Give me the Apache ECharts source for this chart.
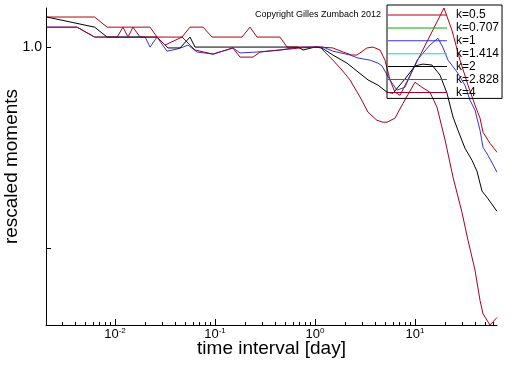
<!DOCTYPE html>
<html><head><meta charset="utf-8">
<script src="https://cdn.jsdelivr.net/npm/echarts@6/dist/echarts.min.js"></script>
<style>html,body{margin:0;padding:0;background:#fff}#c{width:512px;height:366px}</style>
</head><body><div id="c"></div>
<script>
// ---- data (time interval in days, rescaled moment) ----
const seriesNames = ['k=0.5','k=0.707','k=1','k=1.414','k=2','k=2.828','k=4'];
const seriesColors = ['#b40010','#00b000','#3535d5','#00dcdc','#000000','#e000e0','#a00028'];

const k05X = [0.00208,0.00625,0.00833,0.0224,0.0263,0.0468,0.0562,0.0759,0.0933,0.186,0.224,0.263,0.447,0.525,1.0,1.12,1.51,1.91,2.34,2.63,3.31,3.80,4.47,5.01,5.62,6.31,7.08,19.5,23.4,28.2,33.9,39.8,44.7,47.9,56.2,66.1];
const k05Y = [1.109,1.109,1.071,1.071,1.035,1.035,1.071,1.071,1.035,1.035,1.071,1.035,1.035,1.0,1.0,1.0,0.997,0.983,0.973,0.973,0.997,1.0,0.990,0.956,0.893,0.856,0.847,1.144,1.060,0.956,0.877,0.819,0.783,0.746,0.718,0.696];

const k0707X = [];
const k0707Y = [];

const k1X = [0.00208,0.00417,0.00625,0.0200,0.0224,0.0263,0.0331,0.0417,0.0479,0.0537,0.0661,0.0955,0.151,0.178,0.263,0.447,0.603,0.759,1.0,1.20,1.51,2.24,2.69,3.55,4.27,4.68,5.62,6.61,7.94,10.5,14.1,17.0,19.1,21.4,26.3,31.6,35.5,39.8,44.7,47.9,53.7,66.1];
const k1Y = [1.071,1.071,1.035,1.035,1.0,1.035,0.986,0.993,1.0,1.007,0.983,0.976,0.997,0.980,0.983,0.990,0.997,1.0,1.0,1.0,0.986,0.973,0.963,0.956,0.946,0.937,0.893,0.862,0.871,0.956,1.007,1.031,0.997,0.956,0.918,0.877,0.833,0.805,0.751,0.708,0.689,0.650];

const k1414X = [];
const k1414Y = [];

const k2X = [0.00208,0.00625,0.00833,0.0263,0.0339,0.0447,0.0562,0.0631,0.676,0.759,1.0,1.17,1.51,2.09,2.69,3.39,4.27,5.25,6.03,7.94,10.0,12.0,14.8,17.8,20.9,24.0,26.9,31.6,37.2,41.7,46.8,52.5,66.1];
const k2Y = [1.109,1.071,1.035,1.035,0.997,0.997,1.035,1.0,1.0,0.990,1.0,0.997,0.973,0.946,0.918,0.893,0.877,0.856,0.853,0.896,0.937,0.943,0.940,0.908,0.853,0.786,0.751,0.706,0.677,0.652,0.609,0.596,0.568];

const k2828X = [];
const k2828Y = [];

const k4X = [0.00208,0.00417,0.00625,0.0105,0.0120,0.0135,0.0151,0.0178,0.0263,0.0316,0.0468,0.0631,0.0955,0.151,0.178,0.240,0.282,0.447,0.708,1.0,1.12,1.51,1.86,2.24,2.82,3.39,4.17,4.79,5.25,6.31,7.59,10.0,11.7,14.1,16.6,20.0,24.0,29.5,33.9,39.8,44.7,47.9,56.2,66.1];
const k4Y = [1.071,1.071,1.035,1.035,1.071,1.035,1.071,1.035,1.035,1.007,1.035,0.990,0.976,0.997,0.966,0.966,0.983,0.990,0.997,1.0,1.0,0.956,0.924,0.893,0.842,0.799,0.777,0.772,0.772,0.783,0.824,0.886,0.871,0.856,0.813,0.726,0.639,0.566,0.514,0.464,0.418,0.399,0.384,0.394];

const xRange = [0.00204, 66.1];
const yRange = [0.384, 1.144];
const xMajorTicks = [0.01, 0.1, 1, 10];
const xTickLabels = ['10{s|-2}', '10{s|-1}', '10{s|0}', '10{s|1}'];
const xMinorTicks = [0.003,0.004,0.005,0.006,0.007,0.008,0.009,
  0.02,0.03,0.04,0.05,0.06,0.07,0.08,0.09,
  0.2,0.3,0.4,0.5,0.6,0.7,0.8,0.9,
  2,3,4,5,6,7,8,9,
  20,30,40,50,60];
const yTickValues = [1.0, 0.5];
const yTickLabels = ['1.0', ''];

// ---- chart ----
const L = Math.log10;
const FONT = '"Liberation Sans", Arial, Helvetica, sans-serif';
const allX = [k05X,k0707X,k1X,k1414X,k2X,k2828X,k4X];
const allY = [k05Y,k0707Y,k1Y,k1414Y,k2Y,k2828Y,k4Y];

const chart = echarts.init(document.getElementById('c'), null, {renderer:'canvas'});
const near = (a,b) => Math.abs(a-b) < 1e-6;

chart.setOption({
  animation: false,
  backgroundColor: '#fff',
  grid: {left: 46, right: 15, top: 8, bottom: 41, outerBoundsMode: 'none', containLabel: false},
  legend: {
    orient: 'vertical', left: 387, top: 5,
    padding: [4, 3, 0, 1],
    icon: 'rect',
    itemWidth: 59, itemHeight: 1, itemGap: 0.9,
    borderColor: '#000', borderWidth: 1, borderRadius: 0,
    backgroundColor: 'transparent',
    textStyle: {fontSize: 12, lineHeight: 4, color: '#000', fontFamily: FONT, padding: [8,0,0,4]},
    data: seriesNames
  },
  graphic: [{
    type: 'text', left: 255, top: 10,
    style: {text: 'Copyright Gilles Zumbach 2012', fontSize: 9, fontFamily: FONT, fill: '#000'}
  }],
  xAxis: [{
    type: 'value', min: L(xRange[0]), max: L(xRange[1]),
    splitLine: {show: false},
    axisLine: {show: true, onZero: false, lineStyle: {color: '#000', width: 1}},
    axisTick: {show: true, inside: true, length: 6, customValues: xMajorTicks.map(L), lineStyle: {color: '#000'}},
    axisLabel: {
      customValues: xMajorTicks.map(L), margin: 2, color: '#000',
      formatter: v => { const i = xMajorTicks.findIndex(t => near(L(t), v)); return i >= 0 ? xTickLabels[i] : ''; },
      rich: {s: {fontSize: 8, fontFamily: FONT, verticalAlign: 'top', lineHeight: 8}},
      fontSize: 13, fontFamily: FONT, lineHeight: 15
    },
    name: 'time interval [day]', nameLocation: 'middle', nameGap: 14, nameMoveOverlap: false,
    nameTextStyle: {fontSize: 19, fontFamily: FONT, color: '#000', verticalAlign: 'top'}
  }, {
    type: 'value', min: L(xRange[0]), max: L(xRange[1]), position: 'bottom',
    splitLine: {show: false},
    axisLine: {show: false, onZero: false},
    axisTick: {show: true, inside: true, length: 3, customValues: xMinorTicks.map(L), lineStyle: {color: '#000'}},
    axisLabel: {show: false}
  }],
  yAxis: {
    type: 'value', min: L(yRange[0]), max: L(yRange[1]),
    splitLine: {show: false},
    axisLine: {show: true, onZero: false, lineStyle: {color: '#000', width: 1}},
    axisTick: {show: true, inside: true, length: 5, customValues: yTickValues.map(L), lineStyle: {color: '#000'}},
    axisLabel: {
      customValues: [L(yTickValues[0])], margin: 4, color: '#000', fontSize: 14, fontFamily: FONT,
      formatter: v => { const i = yTickValues.findIndex(t => near(L(t), v)); return i >= 0 ? yTickLabels[i] : ''; }
    },
    name: 'rescaled moments', nameLocation: 'middle', nameGap: 25, nameRotate: 90, nameMoveOverlap: false,
    nameTextStyle: {fontSize: 19, fontFamily: FONT, color: '#000'}
  },
  series: seriesNames.map((n, i) => ({
    name: n, type: 'line', symbol: 'none', silent: true,
    color: seriesColors[i],
    lineStyle: {width: 1, color: seriesColors[i]},
    emphasis: {disabled: true},
    data: allX[i].map((x, j) => [L(x), L(allY[i][j])])
  }))
});
</script></body></html>
